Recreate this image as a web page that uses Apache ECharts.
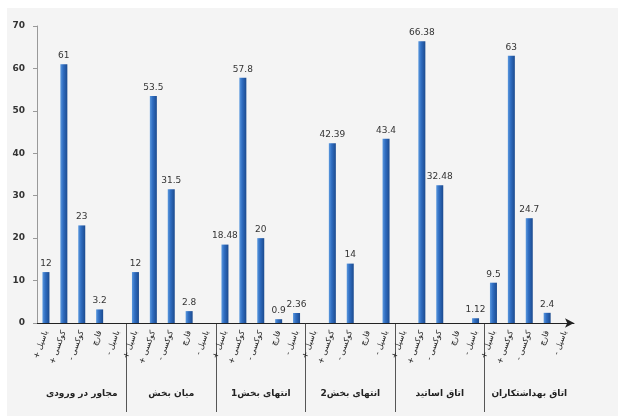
<!DOCTYPE html>
<html>
<head>
    <meta charset="UTF-8">
    <title>chart</title>
    <style>
        html, body { margin: 0; padding: 0; background: #fff; }
    </style>
</head>
<body>
<div id="main" style="width: 618px;height: 416px;"></div>
<script src="https://cdn.jsdelivr.net/npm/echarts@6/dist/echarts.min.js"></script>
<script>
    // groups along the bottom
    var groups = ['مجاور در ورودی', 'میان بخش', 'انتهای بخش1', 'انتهای بخش2', 'اتاق اساتید', 'اتاق بهداشتکاران'];
    // five sub categories in each group (RLM keeps the sign on the left)
    var subs = ['باسیل +\u200F', 'کوکسی +\u200F', 'کوکسی -\u200F', 'قارچ', 'باسیل -\u200F'];
    var values = [
        12, 61, 23, 3.2, null,
        12, 53.5, 31.5, 2.8, null,
        18.48, 57.8, 20, 0.9, 2.36,
        null, 42.39, 14, null, 43.4,
        null, 66.38, 32.48, null, 1.12,
        9.5, 63, 24.7, 2.4, null
    ];
    var yTicks = [0, 10, 20, 30, 40, 50, 60, 70];

    var cats = [];
    groups.forEach(function () {
        subs.forEach(function (s) { cats.push(s); });
    });

    var font = 'DejaVu Sans';
    var myChart = echarts.init(document.getElementById('main'));
    var option = {
        animation: false,
        graphic: [{
            type: 'rect',
            left: 7, top: 8,
            z: -10,
            shape: {width: 611, height: 408},
            style: {fill: '#f4f4f4'}
        }],
        grid: [
            {left: 37, right: 44, top: 26, bottom: 93},
            {left: 37, right: 44, top: 323, bottom: 4}
        ],
        xAxis: [{
            type: 'category',
            data: cats,
            gridIndex: 0,
            axisLine: {
                lineStyle: {color: '#222', width: 1},
                symbol: ['none', 'arrow'],
                symbolSize: [7, 9]
            },
            axisTick: {show: false},
            axisLabel: {
                interval: 0,
                rotate: 70,
                margin: 8,
                fontFamily: font,
                fontSize: 8,
                color: '#222'
            }
        }, {
            type: 'category',
            data: groups,
            gridIndex: 1,
            position: 'bottom',
            axisLine: {show: false},
            axisTick: {show: false},
            splitLine: {
                show: true,
                interval: 0,
                showMinLine: false,
                showMaxLine: false,
                lineStyle: {color: '#555', width: 1}
            },
            axisLabel: {
                interval: 0,
                inside: true,
                margin: 14,
                fontFamily: font,
                fontSize: 9,
                fontWeight: 'bold',
                color: '#222'
            }
        }],
        yAxis: [{
            type: 'value',
            gridIndex: 0,
            min: 0,
            max: 70,
            interval: 10,
            axisLine: {show: true, lineStyle: {color: '#999'}},
            axisTick: {show: true, length: 4, lineStyle: {color: '#999'}},
            splitLine: {show: false},
            axisLabel: {
                margin: 12,
                fontFamily: font,
                fontSize: 9,
                fontWeight: 'bold',
                color: '#333',
                formatter: function (v) { return yTicks.indexOf(v) >= 0 ? v : ''; }
            }
        }, {
            type: 'value',
            gridIndex: 1,
            show: false
        }],
        series: [{
            type: 'bar',
            data: values,
            barWidth: 7,
            itemStyle: {
                color: new echarts.graphic.LinearGradient(0, 0, 1, 0, [
                    {offset: 0, color: '#5a98de'},
                    {offset: 0.4, color: '#2f6dc1'},
                    {offset: 1, color: '#1b4a8e'}
                ])
            },
            label: {
                show: true,
                position: 'top',
                distance: 4,
                fontFamily: font,
                fontSize: 9,
                color: '#333'
            }
        }, {
            type: 'bar',
            xAxisIndex: 1,
            yAxisIndex: 1,
            data: []
        }]
    };
    myChart.setOption(option);
</script>
</body>
</html>
